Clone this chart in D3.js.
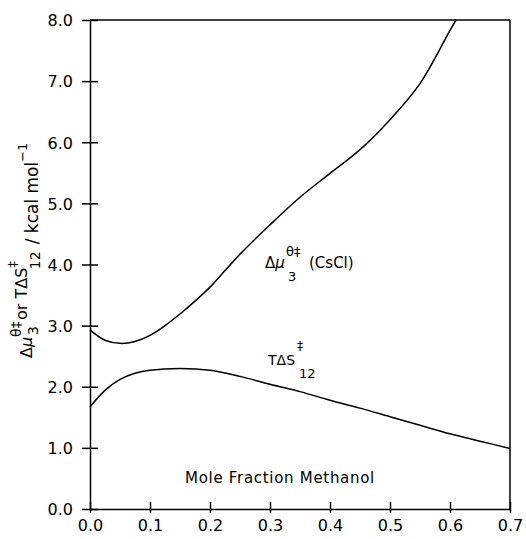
<!DOCTYPE html>
<html>
<head>
<meta charset="utf-8">
<script src="https://cdn.jsdelivr.net/npm/d3@7"></script>
<style>
  body { margin: 0; background: #fff; }
  svg { display: block; font-family: "DejaVu Sans", sans-serif; }
  .axis path, .axis line { stroke: #000; stroke-width: 1.5; }
  .curve { fill: none; stroke: #000; stroke-width: 1.5; }
</style>
</head>
<body>
<div id="chart"></div>
<script>
// values
const xTicks = [0.0, 0.1, 0.2, 0.3, 0.4, 0.5, 0.6, 0.7];
const yTicks = [0.0, 1.0, 2.0, 3.0, 4.0, 5.0, 6.0, 7.0, 8.0];

const muX = [0, 0.025, 0.05, 0.075, 0.1, 0.125, 0.15, 0.175, 0.2, 0.225, 0.25, 0.3, 0.35, 0.4, 0.45, 0.5, 0.55, 0.6, 0.61];
const muY = [2.93, 2.76, 2.71, 2.74, 2.84, 3.0, 3.19, 3.40, 3.63, 3.90, 4.17, 4.65, 5.10, 5.49, 5.88, 6.37, 6.96, 7.83, 8.0];

const tsX = [0, 0.025, 0.05, 0.075, 0.1, 0.15, 0.2, 0.25, 0.3, 0.35, 0.4, 0.45, 0.5, 0.55, 0.6, 0.65, 0.7];
const tsY = [1.67, 1.94, 2.12, 2.22, 2.27, 2.30, 2.27, 2.17, 2.04, 1.92, 1.78, 1.65, 1.51, 1.37, 1.23, 1.11, 0.99];

const width = 526, height = 539;
const margin = { top: 20, right: 16, bottom: 30, left: 90 };

const svg = d3.select("#chart").append("svg")
  .attr("width", width)
  .attr("height", height);

const x = d3.scaleLinear().domain([0, 0.7]).range([margin.left, width - margin.right]);
const y = d3.scaleLinear().domain([0, 8]).range([height - margin.bottom, margin.top]);

// frame: top and right
svg.append("line")
  .attr("x1", x(0)).attr("x2", x(0.7))
  .attr("y1", y(8)).attr("y2", y(8))
  .attr("stroke", "#000").attr("stroke-width", 1.5);
svg.append("line")
  .attr("x1", x(0.7)).attr("x2", x(0.7))
  .attr("y1", y(8)).attr("y2", y(0))
  .attr("stroke", "#000").attr("stroke-width", 1.5);

// x axis, ticks poke up through the line
const xAxis = svg.append("g")
  .attr("class", "axis")
  .attr("transform", `translate(0,${y(0)})`)
  .call(d3.axisBottom(x).tickValues(xTicks).tickFormat(d3.format(".1f")).tickSize(4).tickSizeOuter(0));
xAxis.selectAll(".tick line").attr("y1", -7).attr("y2", 4);
xAxis.selectAll(".tick text")
  .attr("y", 22)
  .attr("dy", 0)
  .attr("font-size", 16)
  .attr("font-family", "DejaVu Sans");

// y axis, ticks cross the line
const yAxis = svg.append("g")
  .attr("class", "axis")
  .attr("transform", `translate(${x(0)},0)`)
  .call(d3.axisLeft(y).tickValues(yTicks).tickFormat(d3.format(".1f")).tickSize(8).tickSizeOuter(0));
yAxis.selectAll(".tick line").attr("x1", -8).attr("x2", 8);
yAxis.selectAll(".tick text")
  .attr("x", -17)
  .attr("dy", "0.36em")
  .attr("font-size", 16)
  .attr("font-family", "DejaVu Sans");

// curves
const line = d3.line()
  .x(d => x(d[0]))
  .y(d => y(d[1]))
  .curve(d3.curveCatmullRom.alpha(0.5));

svg.append("path")
  .attr("class", "curve")
  .attr("d", line(d3.zip(muX, muY)));

svg.append("path")
  .attr("class", "curve")
  .attr("d", line(d3.zip(tsX, tsY)));

// curve labels
const muLabel = svg.append("text")
  .attr("x", 265).attr("y", 268)
  .attr("font-size", 15);
muLabel.append("tspan").text("Δ");
muLabel.append("tspan").attr("font-style", "italic").text("μ");
muLabel.append("tspan").attr("x", 286).attr("y", 256).attr("font-size", 13).text("θ‡");
muLabel.append("tspan").attr("x", 288).attr("y", 281).attr("font-size", 13).text("3");
muLabel.append("tspan").attr("x", 309).attr("y", 268).text("(CsCl)");

const tsLabel = svg.append("text")
  .attr("x", 268).attr("y", 365)
  .attr("font-size", 14);
tsLabel.append("tspan").text("TΔS");
tsLabel.append("tspan").attr("x", 297).attr("y", 350).attr("font-size", 12).text("‡");
tsLabel.append("tspan").attr("x", 299).attr("y", 378).attr("font-size", 13).text("12");

// axis title inside the plot
svg.append("text")
  .attr("x", 280).attr("y", 483)
  .attr("text-anchor", "middle")
  .attr("font-size", 15)
  .attr("letter-spacing", 0.7)
  .text("Mole Fraction Methanol");

// rotated y title
const yTitle = svg.append("text")
  .attr("transform", "translate(0,358) rotate(-90)")
  .attr("font-size", 16);
yTitle.append("tspan").attr("x", 0).attr("y", 32).text("Δ");
yTitle.append("tspan").attr("font-style", "italic").text("μ");
yTitle.append("tspan").attr("x", 21).attr("y", 21).attr("font-size", 14).text("θ‡");
yTitle.append("tspan").attr("x", 23).attr("y", 38).attr("font-size", 14).text("3");
yTitle.append("tspan").attr("x", 38).attr("y", 27).text("or TΔS");
yTitle.append("tspan").attr("dy", -10).attr("font-size", 13).text("‡");
yTitle.append("tspan").attr("dx", -8).attr("y", 40).attr("font-size", 14).text("12");
yTitle.append("tspan").attr("dx", 7).attr("y", 38).attr("font-size", 17).text("/ kcal mol");
yTitle.append("tspan").attr("y", 27).attr("font-size", 13).text("−1");
</script>
</body>
</html>
